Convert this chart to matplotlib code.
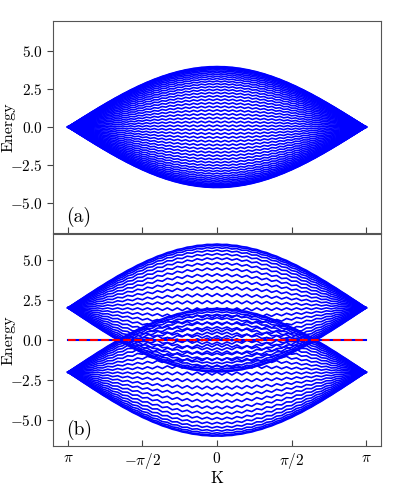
import matplotlib
matplotlib.use("Agg")
import matplotlib.pyplot as plt
import numpy as np

# band model parameters
hopping = 2.0             # lens half-height at K=0 is 2*hopping
onsite_a = [0.0]          # panel (a): one lens centred on 0
onsite_b = [2.0, -2.0]    # panel (b): two lenses centred on +2 and -2
flat_band_b = [0.0]       # panel (b): zero-energy band (red dashed)
n_sites_a = 48
n_sites_b = 27
n_k_a = 77
n_k_b = 61
zigzag = 0.4              # fraction of level spacing the lines wiggle by

x_ticks = [-np.pi, -np.pi / 2, 0.0, np.pi / 2, np.pi]
x_tick_labels = [r"$\pi$", r"$-\pi/2$", r"$0$", r"$\pi/2$", r"$\pi$"]
y_ticks = [-5.0, -2.5, 0.0, 2.5, 5.0]
y_tick_labels = [r"$-5.0$", r"$-2.5$", r"$0.0$", r"$2.5$", r"$5.0$"]
ylim_a = (-7.0, 7.0)
ylim_b = (-6.6, 6.6)

plt.rcParams["font.family"] = "serif"
plt.rcParams["font.serif"] = ["cmr10", "DejaVu Serif"]
plt.rcParams["mathtext.fontset"] = "cm"
plt.rcParams["axes.unicode_minus"] = True


def ribbon_bands(onsite, n_sites, t, nk):
    """Bands of a finite strip, sampled on a coarse K grid (gives the zigzag)."""
    k = np.linspace(-np.pi, np.pi, nk)
    parity = np.arange(nk) % 2
    bands = []
    for e0 in onsite:
        for n in range(1, n_sites + 1):
            q = (n + zigzag * parity) * np.pi / (n_sites + 1)
            bands.append(e0 + 2 * t * np.cos(k / 2) * np.cos(q))
    return k, bands


def style_axis(ax, ylim, label):
    ax.set_xlim(-np.pi * 1.1, np.pi * 1.1)
    ax.set_ylim(*ylim)
    ax.set_yticks(y_ticks)
    ax.set_yticklabels(y_tick_labels, fontsize=11)
    ax.set_xticks(x_ticks)
    ax.set_ylabel("Energy", fontsize=11.5)
    ax.yaxis.set_label_coords(-0.113, 0.5)
    ax.tick_params(axis="x", direction="in", length=4, color="#444444")
    ax.tick_params(axis="y", direction="out", length=4, color="#444444")
    for s in ax.spines.values():
        s.set_color("#555555")
    ax.text(0.04, 0.03, label, transform=ax.transAxes, fontsize=14,
            ha="left", va="bottom")


fig = plt.figure(figsize=(4.16, 4.91), dpi=100)
ax_a = fig.add_axes([53 / 416, 1 - 233 / 491, 328 / 416, 212 / 491])
ax_b = fig.add_axes([53 / 416, 1 - 446 / 491, 328 / 416, 212 / 491], sharex=ax_a)

k, bands = ribbon_bands(onsite_a, n_sites_a, hopping, n_k_a)
for e in bands:
    ax_a.plot(k, e, color="blue", lw=1.2)

k, bands = ribbon_bands(onsite_b, n_sites_b, hopping, n_k_b)
for e in bands:
    ax_b.plot(k, e, color="blue", lw=1.2)
for e0 in flat_band_b:
    ax_b.plot(k, np.full_like(k, e0), color="blue", lw=1.5)
    ax_b.plot(k, np.full_like(k, e0), color="red", lw=1.5, ls="--")

style_axis(ax_a, ylim_a, "(a)")
style_axis(ax_b, ylim_b, "(b)")
plt.setp(ax_a.get_xticklabels(), visible=False)
ax_b.set_xticklabels(x_tick_labels, fontsize=11)
ax_b.set_xlabel("K", fontsize=12, labelpad=0)

fig.savefig("out.png", dpi=100)
